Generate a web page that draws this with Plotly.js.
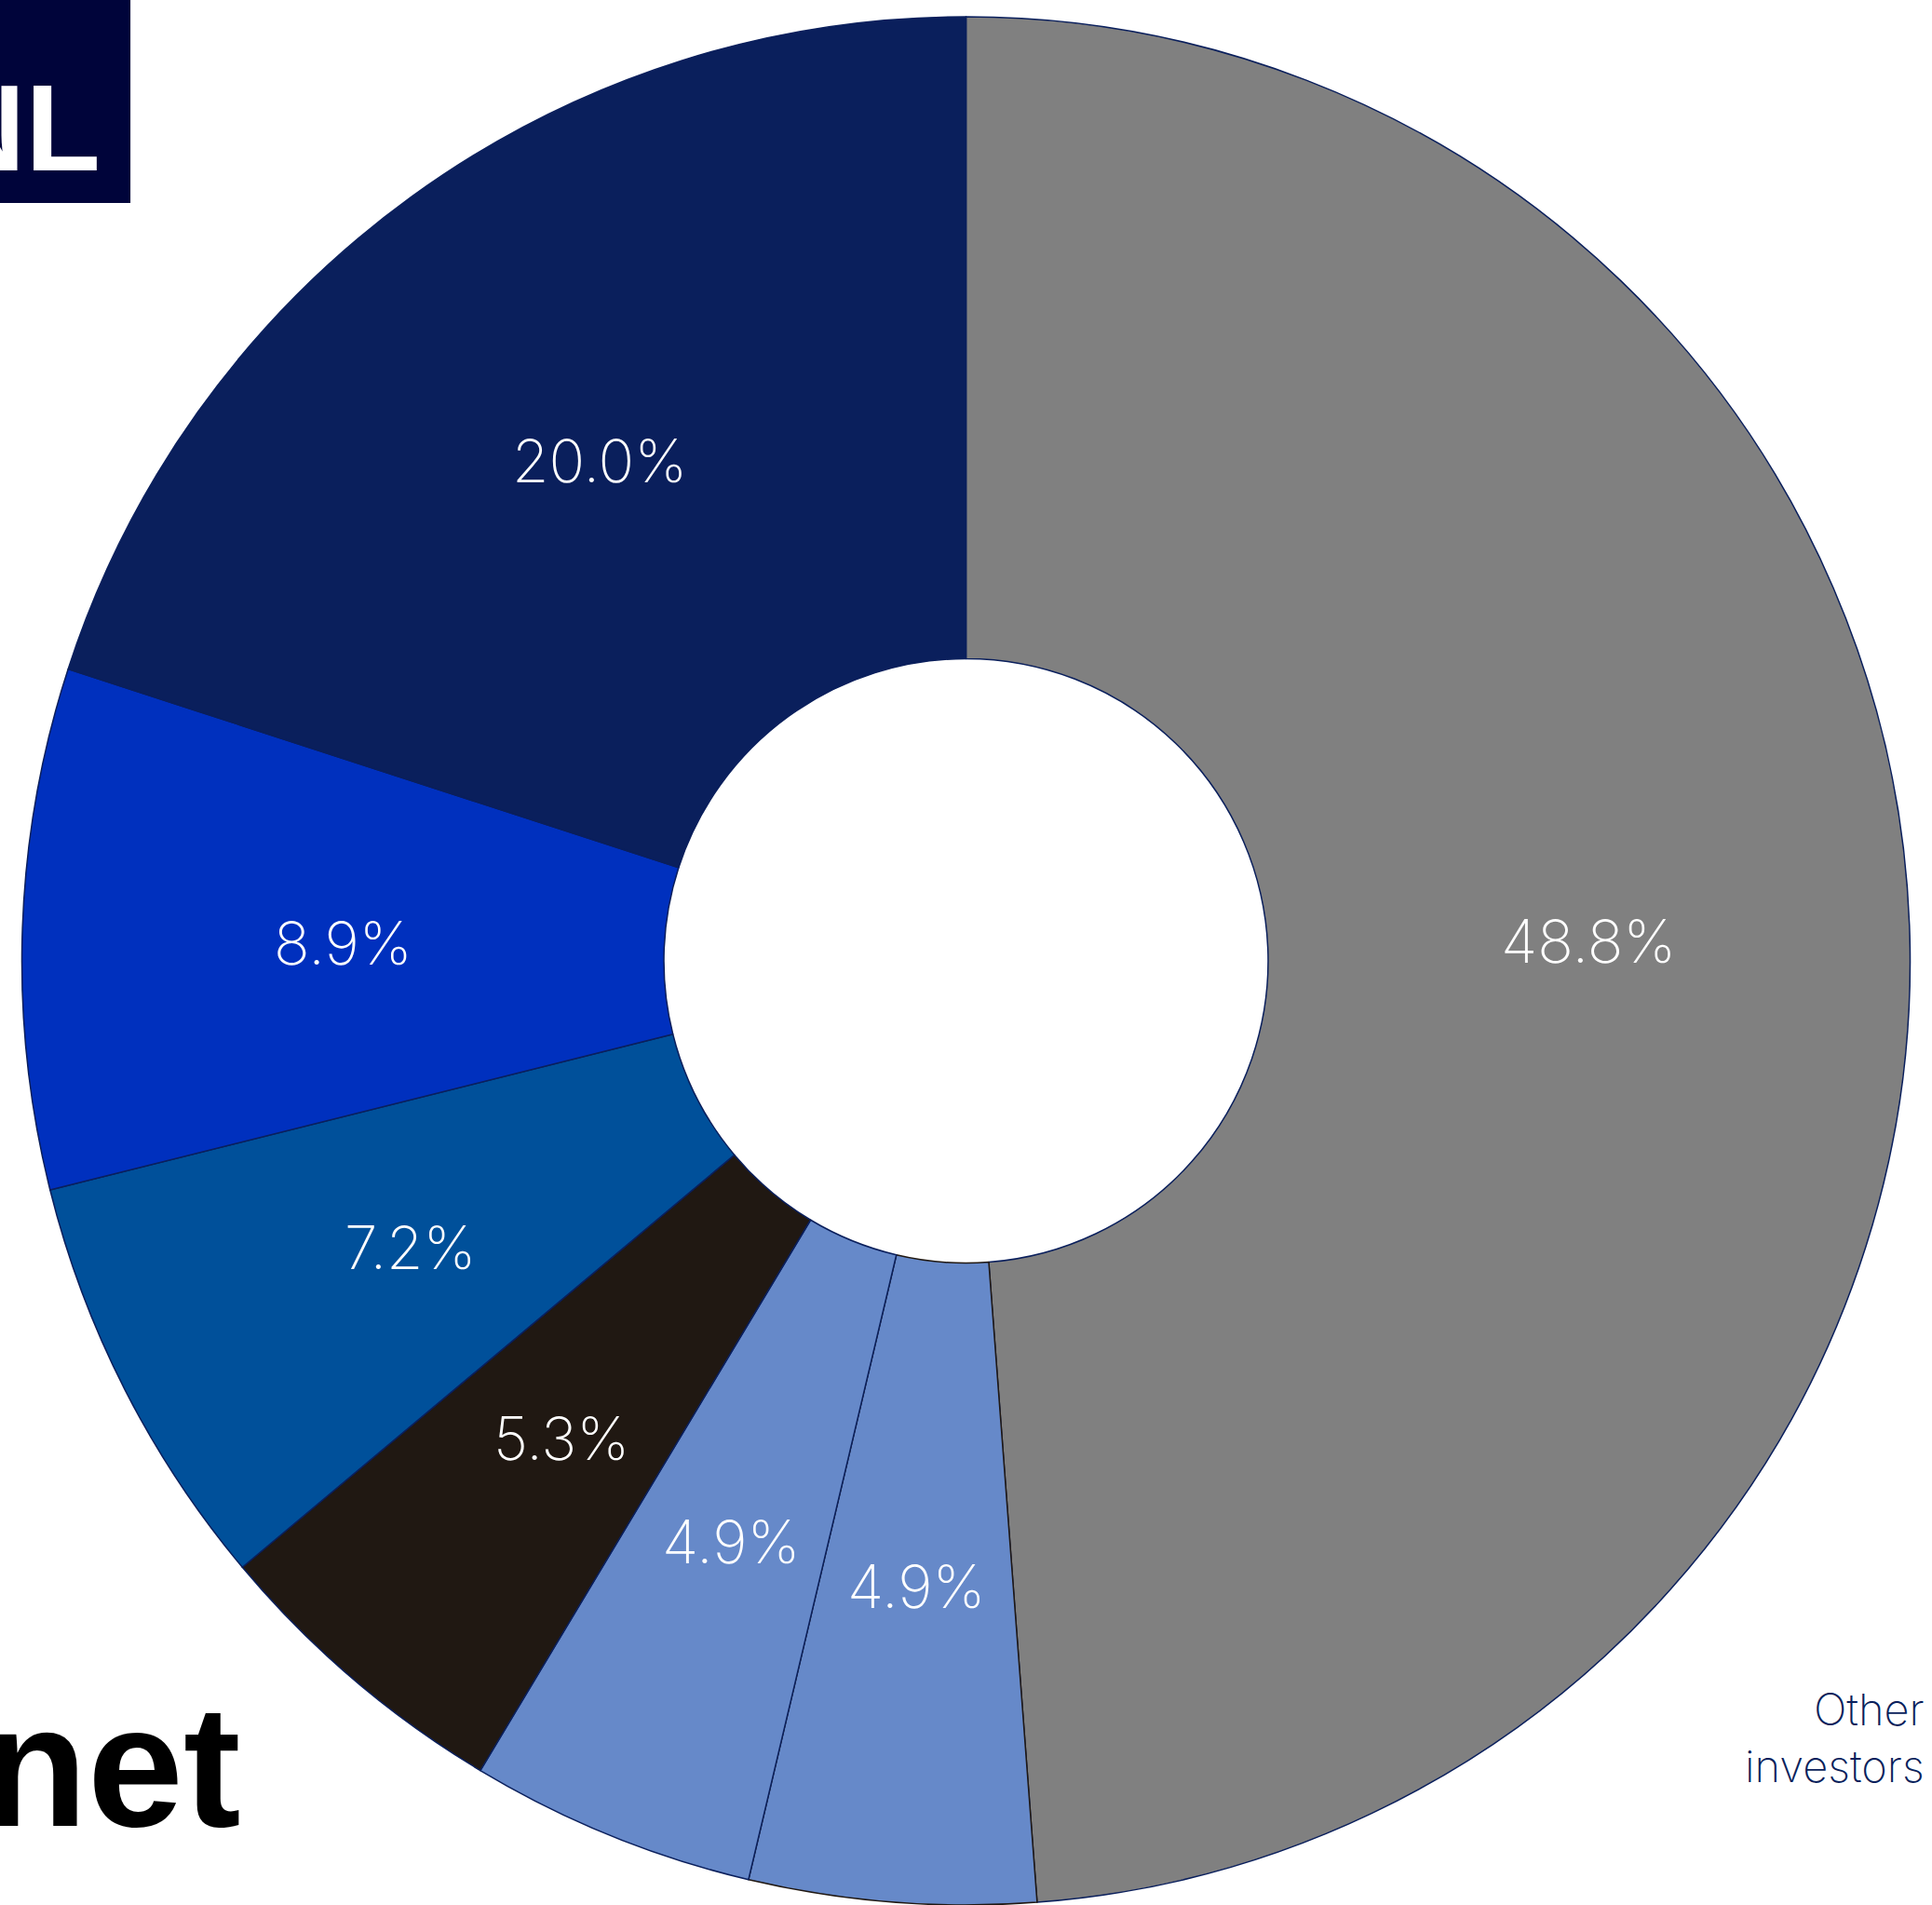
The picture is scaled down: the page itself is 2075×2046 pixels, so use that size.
<!DOCTYPE html>
<html>
<head>
<meta charset="utf-8">
<script src="https://cdn.plot.ly/plotly-3.0.1.min.js"></script>
<style>
html,body{margin:0;padding:0;overflow:hidden;background:#fff;}
#chart{width:2075px;height:2046px;}
</style>
</head>
<body>
<div id="chart"></div>
<script>
const categories = ["Other investors", "Shareholder F", "Shareholder E", "Shareholder D", "Shareholder C", "Shareholder B", "Shareholder A"];
const shares = [48.8, 4.9, 4.9, 5.3, 7.2, 8.9, 20.0];
const sliceColors = ["#808080", "#6689C9", "#6689C9", "#201812", "#00509A", "#0030BE", "#0A1F5C"];
const lineColors = ["#0A1F5C", "#201812", "#0A1F5C", "#0A1F5C", "#0A1F5C", "#0A1F5C", "#0A1F5C"];
const otherLabel = "Other<br>investors";

const W = 2075, H = 2046;
const margin = {l: 0, r: 0, t: 18, b: 0, pad: 0};
const holeFrac = 0.32;

const trace = {
  type: "pie",
  labels: categories,
  values: shares,
  sort: false,
  direction: "clockwise",
  rotation: 0,
  hole: holeFrac,
  marker: {colors: sliceColors, line: {color: lineColors, width: 1.5}},
  textinfo: "none",
  hoverinfo: "label+percent",
  showlegend: false
};

// Percentage labels placed at the middle of the ring for each slice, computed from the data
const plotW = W - margin.l - margin.r, plotH = H - margin.t - margin.b;
const R = Math.min(plotW, plotH) / 2;
const rMid = R * (1 + holeFrac) / 2;
const total = shares.reduce((a, b) => a + b, 0);
const pctAnnotations = [];
let cum = 0;
shares.forEach(v => {
  const mid = (cum + v / 2) / total * 2 * Math.PI;
  cum += v;
  const dx = rMid * Math.sin(mid);
  const dy = rMid * Math.cos(mid);
  pctAnnotations.push({
    text: (v / total * 100).toFixed(1) + "%",
    xref: "paper", yref: "paper",
    x: 0.5 + dx / plotW, y: 0.5 + dy / plotH - 4 / plotH,
    xanchor: "center", yanchor: "middle", showarrow: false,
    font: {family: "Inter", weight: 200, size: 64, color: "#ffffff"}
  });
});

const layout = {
  width: W,
  height: H,
  margin: margin,
  paper_bgcolor: "#ffffff",
  showlegend: false,
  shapes: [
    {type: "rect", xref: "paper", yref: "paper", x0: -0.01, x1: 0.0675, y0: 0.9014, y1: 1.02,
     fillcolor: "#00043A", line: {width: 0}, layer: "above"}
  ],
  annotations: pctAnnotations.concat([
    {text: otherLabel, xref: "paper", yref: "paper", x: 0.997, y: 0.089, xanchor: "right", yanchor: "middle",
     align: "right", showarrow: false, font: {family: "Inter", weight: 200, size: 47, color: "#0A1F5C"}},
    {text: "NL", xref: "paper", yref: "paper", x: 0.053, y: 0.941, xanchor: "right", yanchor: "middle",
     showarrow: false, font: {family: "Liberation Sans Narrow, Liberation Sans", weight: 700, size: 132, color: "#ffffff"}},
    {text: "net", xref: "paper", yref: "paper", x: 0.126, y: 0.0735, xanchor: "right", yanchor: "middle",
     showarrow: false, font: {family: "Liberation Sans", weight: 700, size: 185, color: "#000000"}}
  ])
};

Plotly.newPlot("chart", [trace], layout, {staticPlot: true, displayModeBar: false});
</script>
</body>
</html>
